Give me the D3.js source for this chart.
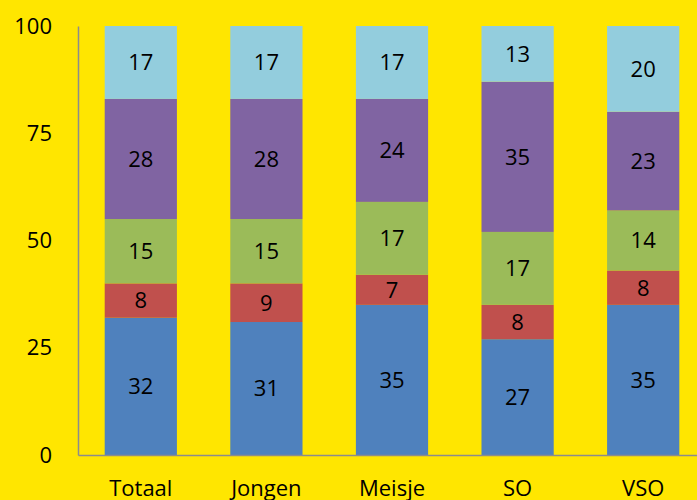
<!DOCTYPE html>
<html>
<head>
<meta charset="utf-8">
<script src="https://cdn.jsdelivr.net/npm/d3@7"></script>
<style>
  html, body { margin: 0; padding: 0; background: #FFE600; }
  svg { display: block; }
  text { font-family: "Open Sans", "Liberation Sans", sans-serif; fill: #000; }
</style>
</head>
<body>
<div id="chart"></div>
<script>
// Data________________________________________________
const categories = ['Totaal', 'Jongen', 'Meisje', 'SO', 'VSO'];
const seriesKeys = ['s1', 's2', 's3', 's4', 's5'];
const s1 = [32, 31, 35, 27, 35];
const s2 = [8, 9, 7, 8, 8];
const s3 = [15, 15, 17, 17, 14];
const s4 = [28, 28, 24, 35, 23];
const s5 = [17, 17, 17, 13, 20];
const yTicks = [0, 25, 50, 75, 100];
const colors = ['#4F81BD', '#C0504D', '#9BBB59', '#8064A2', '#93CDDD'];

const chartWidth = 697;
const chartHeight = 500;
const plotLeft = 78;
const plotTop = 26;
const plotBottom = 455;
const fontSize = '22px';

const rows = categories.map((c, i) => ({
    cat: c, s1: s1[i], s2: s2[i], s3: s3[i], s4: s4[i], s5: s5[i]
}));
const stacked = d3.stack().keys(seriesKeys)(rows);

// Svg_________________________________________________
const svg = d3.select('#chart')
    .append('svg')
    .attr('width', chartWidth)
    .attr('height', chartHeight);

svg.append('rect')
    .attr('width', chartWidth)
    .attr('height', chartHeight)
    .attr('fill', '#FFE600');

// Scales______________________________________________
const xScale = d3.scaleBand()
    .domain(categories)
    .range([plotLeft, plotLeft + 628])
    .paddingInner(0.425)
    .paddingOuter(0.2125);
const yScale = d3.scaleLinear()
    .domain([0, 100])
    .range([plotBottom, plotTop]);

// Bars________________________________________________
const layers = svg.selectAll('g.layer')
    .data(stacked)
    .enter()
    .append('g')
    .attr('class', 'layer')
    .attr('fill', (d, i) => colors[i]);

layers.selectAll('rect')
    .data(d => d)
    .enter()
    .append('rect')
    .attr('x', d => xScale(d.data.cat))
    .attr('width', xScale.bandwidth())
    .attr('y', d => yScale(d[1]))
    .attr('height', d => yScale(d[0]) - yScale(d[1]));

layers.selectAll('text')
    .data(d => d)
    .enter()
    .append('text')
    .attr('x', d => xScale(d.data.cat) + xScale.bandwidth() / 2)
    .attr('y', d => (yScale(d[0]) + yScale(d[1])) / 2)
    .attr('text-anchor', 'middle')
    .attr('dy', '0.36em')
    .style('font-size', fontSize)
    .style('fill', '#000')
    .text(d => d[1] - d[0]);

// Axes________________________________________________
const yAxis = d3.axisLeft(yScale)
    .tickValues(yTicks)
    .tickSize(0)
    .tickPadding(26);
const gy = svg.append('g')
    .attr('transform', `translate(${plotLeft}, 0)`)
    .call(yAxis);
gy.select('.domain').attr('stroke', '#8C8C8C').attr('stroke-width', 1.5);
gy.selectAll('text').style('font-size', fontSize).attr('fill', '#000');

const xAxis = d3.axisBottom(xScale)
    .tickSize(0)
    .tickPadding(25);
const gx = svg.append('g')
    .attr('transform', `translate(0, ${plotBottom})`)
    .call(xAxis);
gx.select('.domain').attr('stroke', '#8C8C8C').attr('stroke-width', 1.5);
gx.selectAll('text').style('font-size', fontSize).attr('fill', '#000');
</script>
</body>
</html>
